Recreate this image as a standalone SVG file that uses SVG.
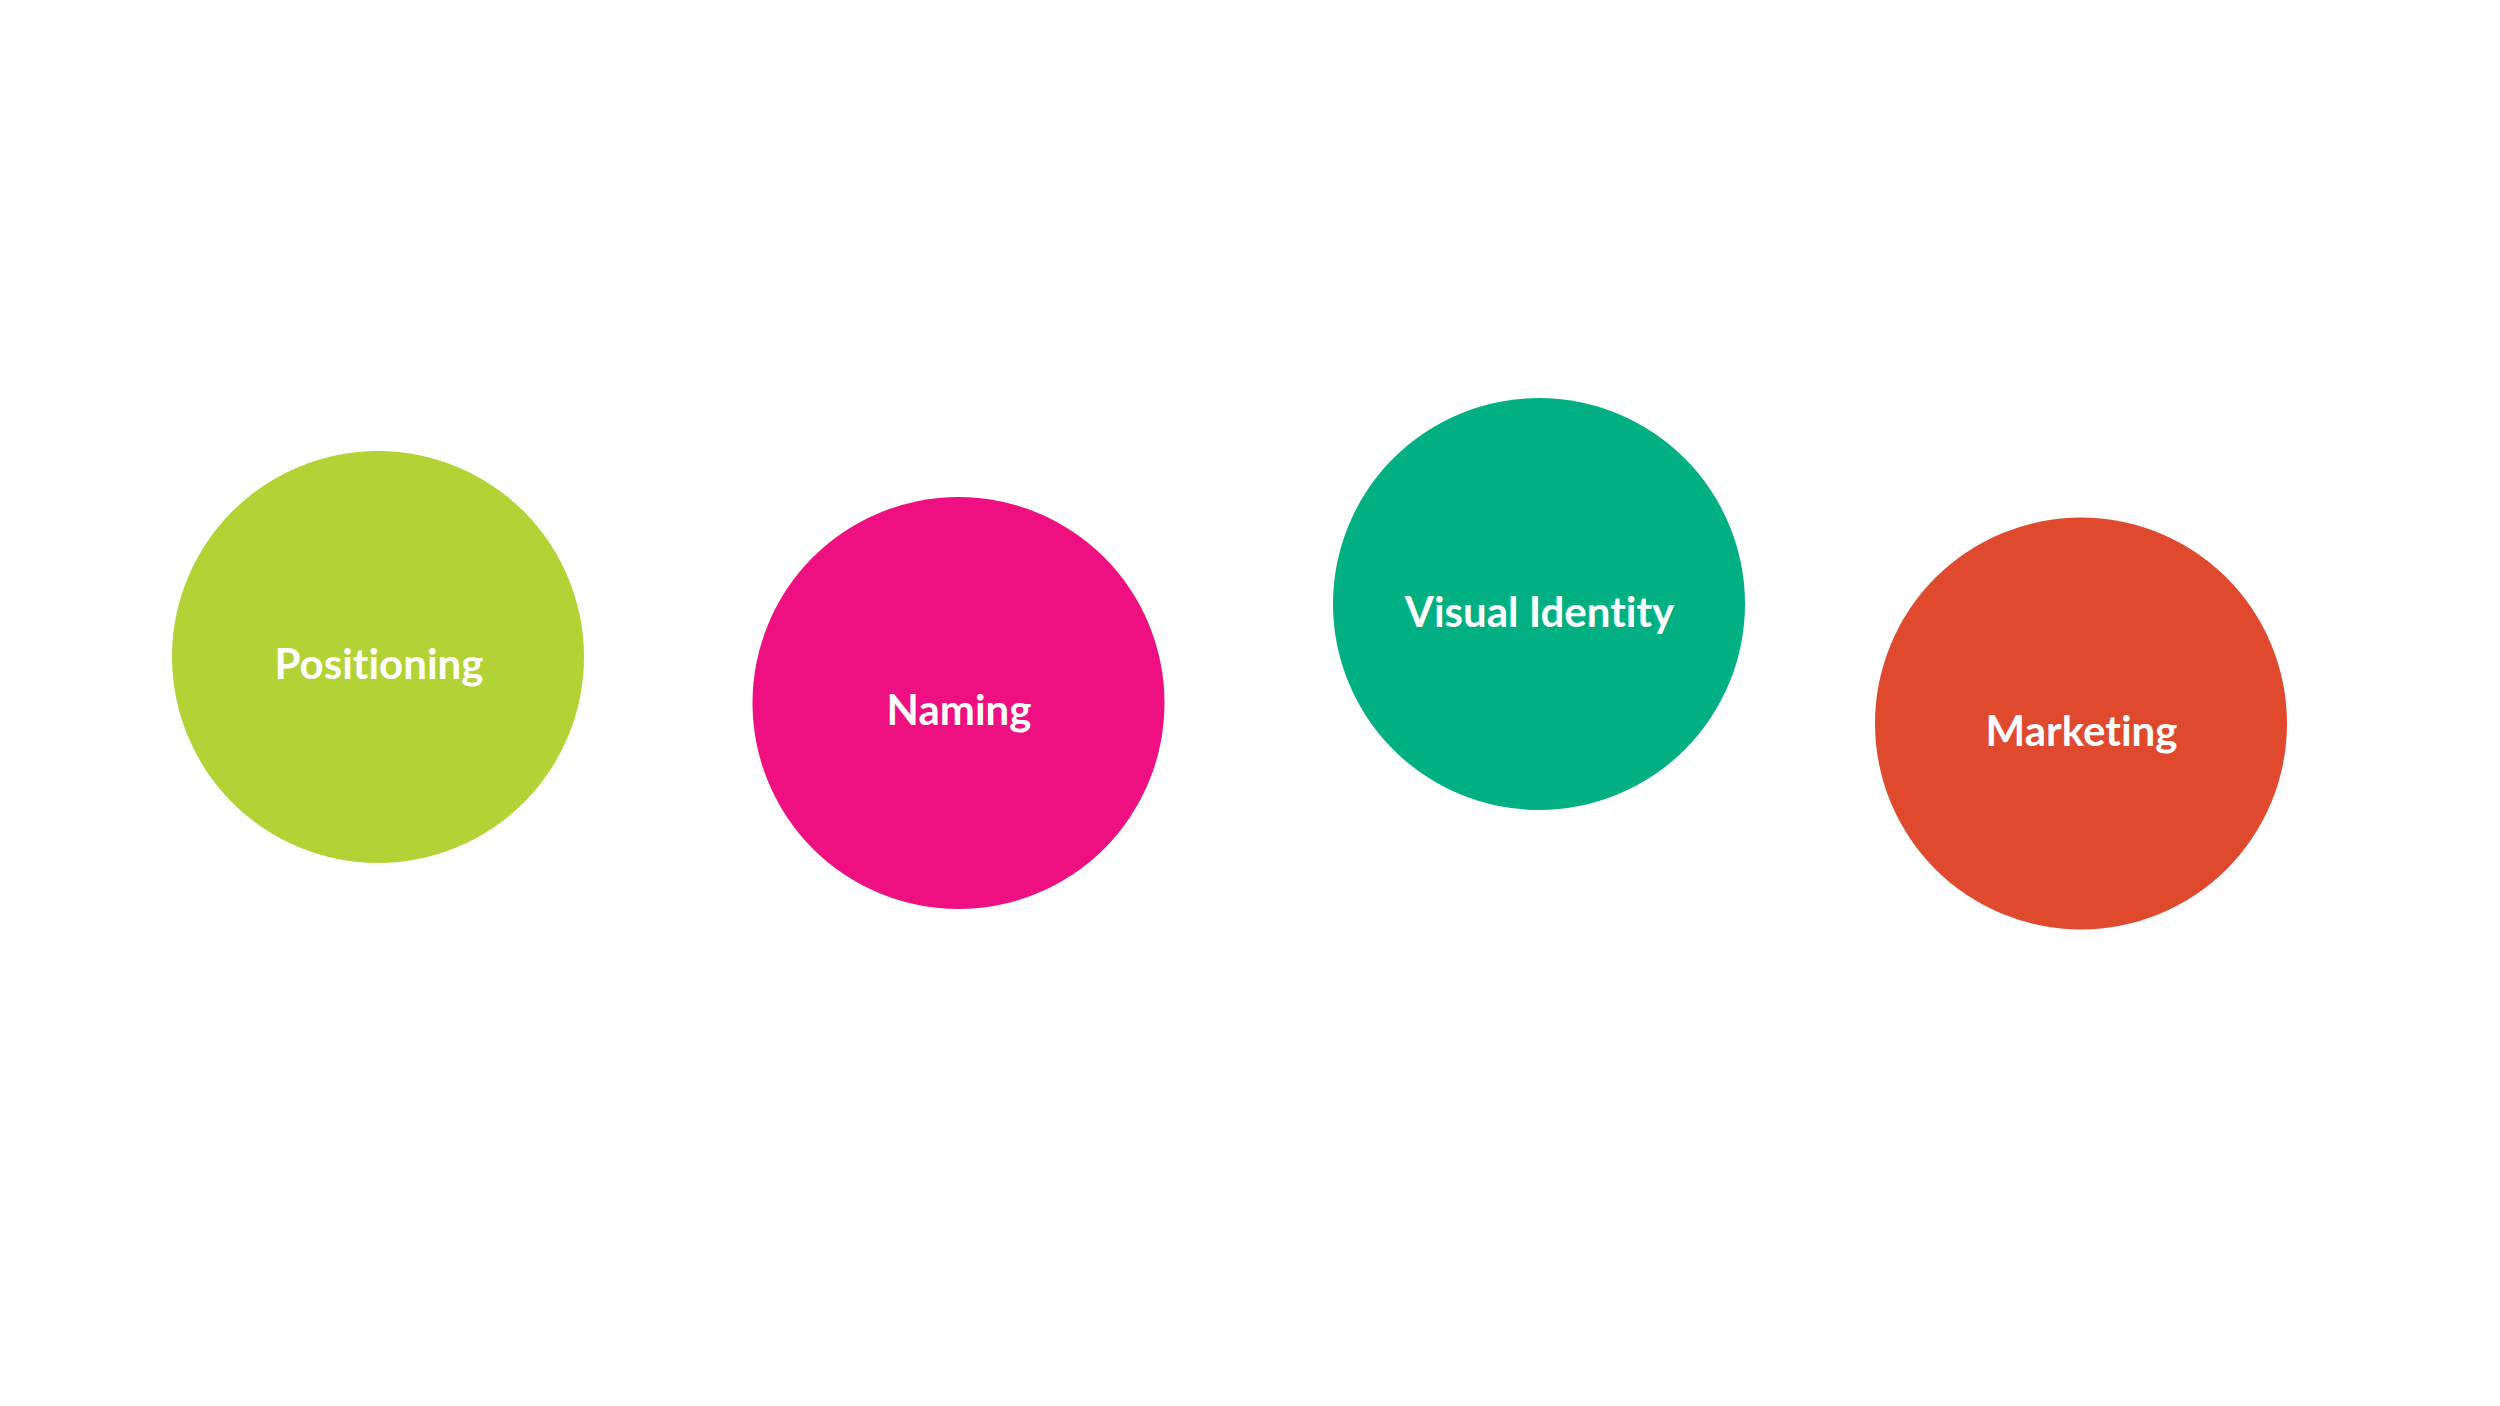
<svg xmlns="http://www.w3.org/2000/svg" width="2500" height="1406" viewBox="0 0 2500 1406">
<style>
.lbl{font-family:Lato,"Open Sans","Liberation Sans",sans-serif;font-weight:700;font-size:42px;fill:#ffffff;text-anchor:middle;font-variant-ligatures:none;font-feature-settings:"liga" 0}
</style>
<rect width="2500" height="1406" fill="#ffffff"/>
<g id="connectors"></g>
<g id="positioning">
<circle cx="378" cy="657" r="206" fill="#B3D235"/>
<text class="lbl" x="379" y="679">Positioning</text>
</g>
<g id="naming">
<circle cx="958.5" cy="703" r="206" fill="#EE0F80"/>
<text class="lbl" x="959" y="725">Naming</text>
</g>
<g id="visual-identity">
<circle cx="1539" cy="604" r="206" fill="#00B083"/>
<text class="lbl" x="1539.5" y="627">Visual Identity</text>
</g>
<g id="marketing">
<circle cx="2081" cy="723.5" r="206" fill="#DF4A2F"/>
<text class="lbl" x="2081.5" y="746">Marketing</text>
</g>
</svg>
